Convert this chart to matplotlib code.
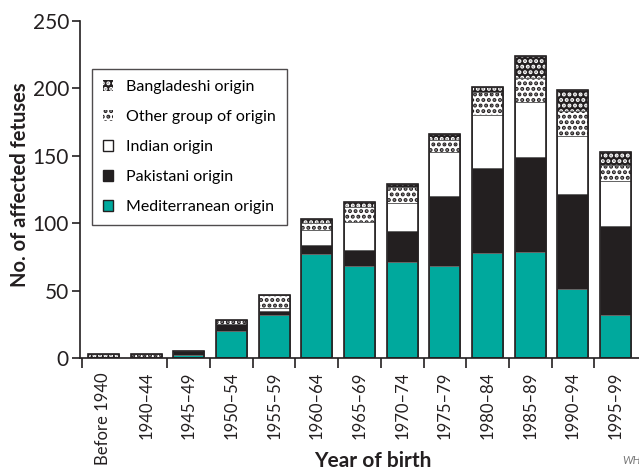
import matplotlib
matplotlib.use("Agg")
import matplotlib.pyplot as plt
from matplotlib.patches import Patch
import numpy as np

# ------------------------
# DATA
# ------------------------
categories = ["Before 1940", "1940\u201344", "1945\u201349", "1950\u201354", "1955\u201359",
              "1960\u201364", "1965\u201369", "1970\u201374", "1975\u201379", "1980\u201384",
              "1985\u201389", "1990\u201394", "1995\u201399"]
mediterranean = [0, 0, 2, 20, 32, 77, 68, 71, 68, 78, 79, 51, 32]
pakistani     = [0, 0, 3, 5, 3, 7, 12, 23, 52, 63, 70, 71, 66]
indian        = [0, 0, 0, 0, 2, 11, 21, 21, 33, 39, 41, 43, 33]
other         = [0, 3, 0, 3, 10, 5, 11, 12, 9, 17, 18, 18, 12]
bangladeshi   = [3, 0, 0, 0, 0, 3, 4, 2, 4, 4, 16, 16, 10]

labels = ["Mediterranean origin", "Pakistani origin", "Indian origin",
          "Other group of origin", "Bangladeshi origin"]

# ------------------------
# STYLE
# ------------------------
TEAL = "#00a99d"
DARK = "#231f20"
plt.rcParams["font.family"] = ["Lato", "DejaVu Sans"]
plt.rcParams["hatch.linewidth"] = 2.0

# (face, hatch colour, hatch)
styles = [
    (TEAL, None, None),
    (DARK, None, None),
    ("white", None, None),
    ("white", DARK, "..."),
    (DARK, "white", "..."),
]

fig = plt.figure(figsize=(6.39, 4.70), dpi=100)
ax = fig.add_axes([80 / 639, 112 / 470, 559 / 639, 337 / 470])

x = np.arange(len(categories))
width = 0.72
bottom = np.zeros(len(categories))
series = [mediterranean, pakistani, indian, other, bangladeshi]

for vals, (face, hcol, hatch) in zip(series, styles):
    vals = np.array(vals, dtype=float)
    if hatch:
        ax.bar(x, vals, width, bottom=bottom, color=face, edgecolor=hcol,
               hatch=hatch, linewidth=0, zorder=2)
    else:
        ax.bar(x, vals, width, bottom=bottom, color=face, linewidth=0, zorder=2)
    # thin segment outline
    ax.bar(x, vals, width, bottom=bottom, fill=False, edgecolor="#666666",
           linewidth=0.7, zorder=3)
    bottom += vals

# outer outline of each stack
ax.bar(x, bottom, width, fill=False, edgecolor=DARK, linewidth=1.2, zorder=4)

# axes
ax.set_xlim(-0.55, 12.55)
ax.set_ylim(0, 250)
ax.spines["top"].set_visible(False)
ax.spines["right"].set_visible(False)
for s in ["left", "bottom"]:
    ax.spines[s].set_linewidth(1.2)
    ax.spines[s].set_color(DARK)

ax.set_yticks([0, 50, 100, 150, 200, 250])
ax.tick_params(axis="y", direction="out", length=6, width=1.2, labelsize=15,
               colors=DARK, pad=2)

ax.set_xticks(x)
ax.set_xticklabels(categories, rotation=90, fontsize=12)
ax.tick_params(axis="x", length=0, pad=10, colors=DARK)
ax.set_xticks([-0.5] + list(np.arange(1.5, 12.0, 1.0)), minor=True)
ax.tick_params(axis="x", which="minor", direction="out", length=7, width=1.2,
               colors=DARK)

fig.text(20 / 639, 1 - 185 / 470, "No. of affected fetuses", rotation=90,
         ha="center", va="center", fontsize=14.5, fontweight="bold", color=DARK)
fig.text(373 / 639, 1 - 461 / 470, "Year of birth", ha="center", va="center",
         fontsize=15, fontweight="bold", color=DARK)

# legend
handles = []
for lab, (face, hcol, hatch) in zip(labels, styles):
    if hatch:
        handles.append(Patch(facecolor=face, edgecolor=hcol, hatch=hatch,
                             linewidth=0, label=lab))
    else:
        handles.append(Patch(facecolor=face, edgecolor=DARK, linewidth=1,
                             label=lab))
leg = ax.legend(handles[::-1], labels[::-1], loc="upper left",
                bbox_to_anchor=(0.021, 0.858), borderaxespad=0,
                fontsize=11.5, frameon=True, fancybox=False, edgecolor=DARK,
                handlelength=0.65, handleheight=0.65, handletextpad=0.8,
                labelspacing=1.0, borderpad=0.7)
leg.get_frame().set_linewidth(1.0)

fig.text(622 / 639, 0.012, "WHO", fontsize=8, color="#777777", style="italic")

fig.savefig("out.png", dpi=100)
